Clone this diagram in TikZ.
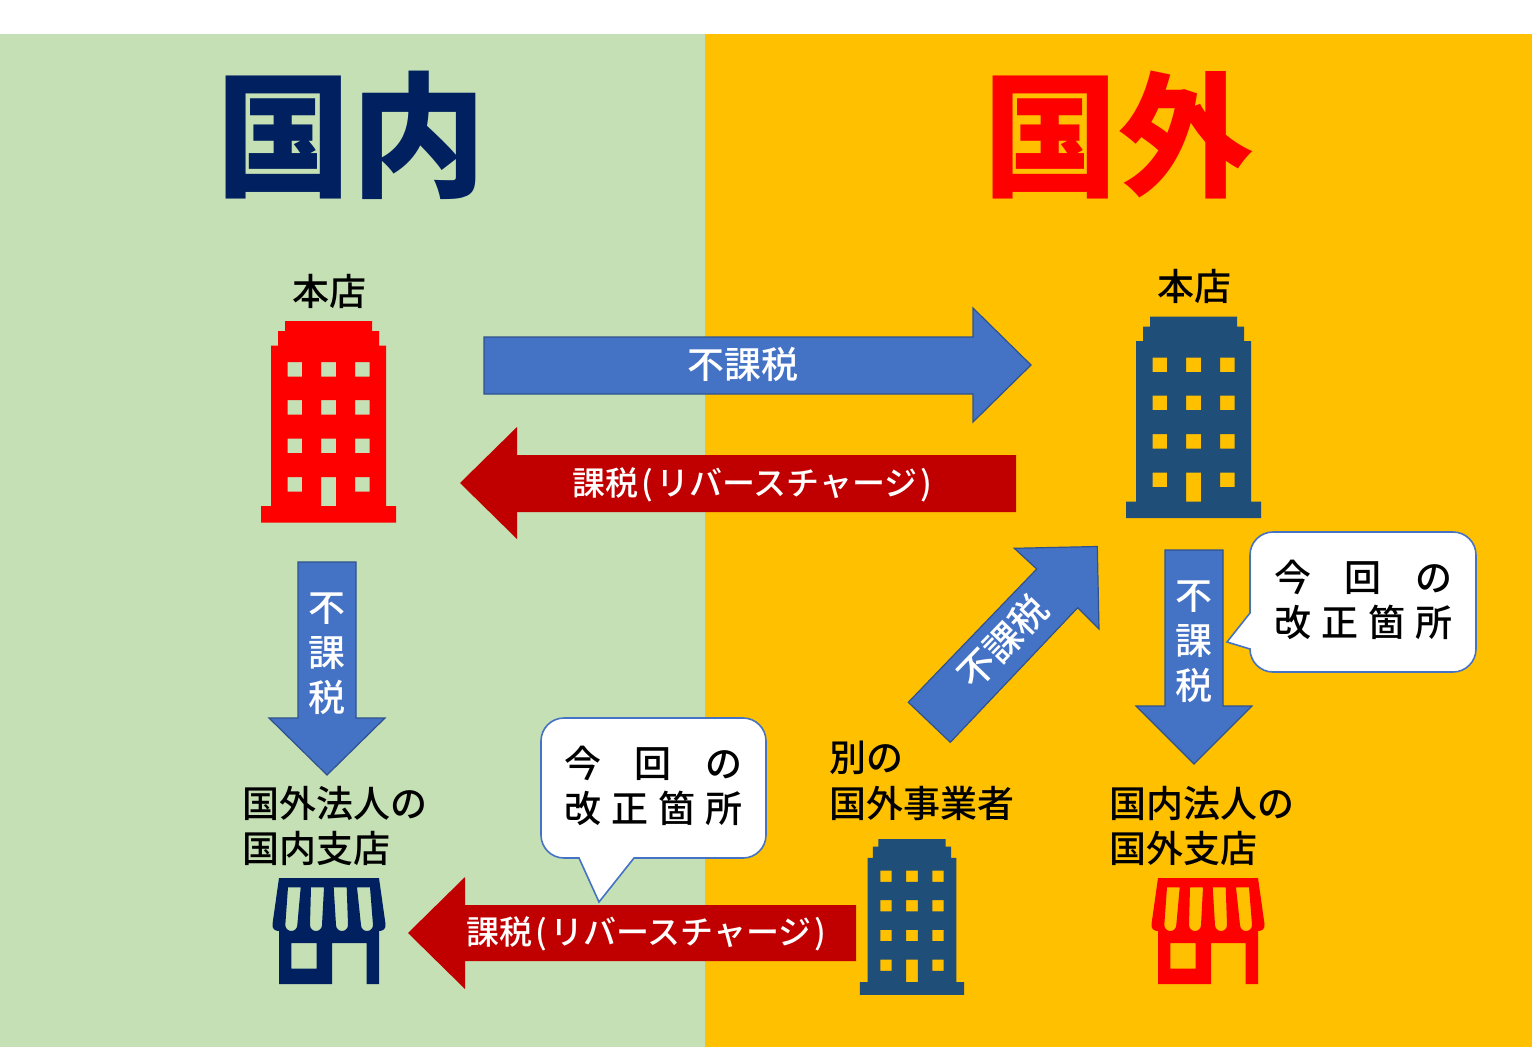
\documentclass[tikz,border=0pt]{standalone}
\usepackage{fontspec}
\setmainfont{Noto Sans CJK JP}
\newfontfamily\medfont{Noto Sans CJK JP Medium}
\usetikzlibrary{arrows.meta, positioning, calc}
\definecolor{domesticgreen}{RGB}{197, 224, 180}
\definecolor{foreignorange}{RGB}{255, 192, 0}
\definecolor{navytitle}{RGB}{0, 32, 96}
\definecolor{towerblue}{RGB}{31, 78, 121}
\definecolor{arrowblue}{RGB}{68, 114, 196}
\definecolor{arrowedge}{RGB}{47, 82, 143}
\definecolor{arrowred}{RGB}{192, 0, 0}
\newcommand{\spreadline}[1]{\makebox[179pt][s]{#1}}
\tikzset{
  titletext/.style={inner sep=0pt, font=\fontsize{135}{135}\selectfont\bfseries},
  blacklabel/.style={inner sep=0pt, align=left, font=\medfont\fontsize{37}{45.5}\selectfont},
  arrowlabel/.style={inner sep=0pt, align=center, text=white, font=\medfont\fontsize{37}{45}\selectfont},
  taxlabel/.style={inner sep=0pt, text=white, font=\medfont\fontsize{33}{40}\selectfont},
  bluearrow/.style={fill=arrowblue, draw=arrowedge, line width=1.2pt},
  redarrow/.style={fill=arrowred},
  callout/.style={fill=white, draw=arrowblue, line width=1.6pt},
  pics/building/.style={code={
    \fill[#1, even odd rule] (-43.5,0) -- (43.5,0) -- (43.5,10) -- (50.5,10) -- (50.5,24.5) -- (57.5,24.5)
      -- (57.5,185) -- (67.5,185) -- (67.5,201.5) -- (-67.5,201.5) -- (-67.5,185) -- (-57.5,185)
      -- (-57.5,24.5) -- (-50.5,24.5) -- (-50.5,10) -- (-43.5,10) -- cycle
      \foreach \wy in {41,79,117.5} {
        (-41,\wy) rectangle +(14.5,14.5) (-7.5,\wy) rectangle +(15,14.5) (26.5,\wy) rectangle +(14.5,14.5)
      }
      (-41,156) rectangle +(14.5,14.5) (-7.5,156) rectangle +(15,29) (26.5,156) rectangle +(14.5,14.5);
  }},
  pics/shop/.style={code={
    \fill[#1, even odd rule] (0,0) -- (100,0) -- (106.5,46) .. controls (107,51) and (104,53) .. (100,53)
      -- (100,106) -- (87.7,106) -- (87.7,65) -- (53,65) -- (53,106) -- (0,106) -- (0,53)
      .. controls (-4,53) and (-7,51) .. (-6.5,46) -- cycle
      (12.3,65) rectangle (37.7,90.7)
      (9,9.3) -- (21.7,9.3) -- (18.3,47) arc (0:180:6) -- cycle
      (32,9.3) -- (45,9.3) -- (43,47) arc (0:180:6) -- cycle
      (54.7,9.3) -- (67.7,9.3) -- (69,47) arc (0:180:6) -- cycle
      (78,9.3) -- (91,9.3) -- (94,47) arc (0:180:6) -- cycle;
  }}
}
\begin{document}
\begin{tikzpicture}[x=1pt, y=-1pt]
    \useasboundingbox (0,0) rectangle (1532,1047);
    % Two halves
    \fill[white] (0,0) rectangle (1532,34);
    \fill[domesticgreen] (0,34) rectangle (705,1047);
    \fill[foreignorange] (705,34) rectangle (1532,1047);

    % Titles
    \node[titletext, navytitle] (domestic) at (351,135) {国内};
    \node[titletext, red] (foreign) at (1118,135) {国外};

    % Buildings and shops
    \pic at (328.5,321) {building=red};
    \pic at (1193.5,316.5) {building=towerblue};
    \pic[scale=0.773] at (912,839) {building=towerblue};
    \pic at (279,878) {shop=navytitle};
    \pic at (1158,878) {shop=red};

    % Labels
    \node[blacklabel] (headleft) at (329,291) {本店};
    \node[blacklabel] (headright) at (1194,286) {本店};
    \node[blacklabel, anchor=west] (branchleft) at (242.5,826) {国外法人の\\国内支店};
    \node[blacklabel, anchor=west] (otherfirm) at (829,781) {別の\\国外事業者};
    \node[blacklabel, anchor=west] (branchright) at (1109.5,826) {国内法人の\\国外支店};

    % Horizontal arrows
    \draw[bluearrow] (484,337) -- (973,337) -- (973,308) -- (1031,365) -- (973,422) -- (973,394) -- (484,394) -- cycle;
    \node[arrowlabel] (free1) at (743,364) {不課税};
    \fill[redarrow] (1016,455) -- (517,455) -- (517,427) -- (460,483) -- (517,539) -- (517,512) -- (1016,512) -- cycle;
    \node[taxlabel] (tax1) at (752.5,484.5) {課税\hspace{3pt}(\hspace{3pt}リバースチャージ\hspace{3pt})};
    \fill[redarrow] (856,905) -- (465,905) -- (465,877) -- (408,933) -- (465,989) -- (465,961) -- (856,961) -- cycle;
    \node[taxlabel] (tax2) at (646.5,933.5) {課税\hspace{3pt}(\hspace{3pt}リバースチャージ\hspace{3pt})};

    % Down arrows
    \draw[bluearrow] (298,562) -- (356,562) -- (356,718) -- (385,718) -- (327,775) -- (269,718) -- (298,718) -- cycle;
    \node[arrowlabel] (free2) at (327,653.5) {不\\課\\税};
    \draw[bluearrow] (1165,550) -- (1223,550) -- (1223,706) -- (1252,706) -- (1194,764) -- (1136,706) -- (1165,706) -- cycle;
    \node[arrowlabel] (free3) at (1194,641.5) {不\\課\\税};

    % Diagonal arrow
    \draw[bluearrow] (908.3,702.3) -- (1036.7,569) -- (1014.3,548.3) -- (1097.3,546.5) -- (1099,629) -- (1077.7,607.7) -- (950.3,742.3) -- cycle;
    \node[arrowlabel, rotate=46] (free4) at (1003,642) {不課税};

    % Callouts
    \draw[callout] (634,858) -- (743,858) arc (90:0:23) -- (766,741) arc (0:-90:23) -- (564,718) arc (-90:-180:23)
      -- (541,835) arc (180:90:23) -- (579,858) -- (599,902) -- cycle;
    \node[blacklabel] (note1) at (653.5,786) {\spreadline{今\hfill 回\hfill の}\\\spreadline{改\hfill 正\hfill 箇\hfill 所}};
    \draw[callout] (1250,649) arc (180:90:23) -- (1453,672) arc (90:0:23) -- (1476,555) arc (0:-90:23)
      -- (1273,532) arc (-90:-180:23) -- (1250,613) -- (1227,642) -- cycle;
    \node[blacklabel] (note2) at (1363.5,600) {\spreadline{今\hfill 回\hfill の}\\\spreadline{改\hfill 正\hfill 箇\hfill 所}};
\end{tikzpicture}
\end{document}
